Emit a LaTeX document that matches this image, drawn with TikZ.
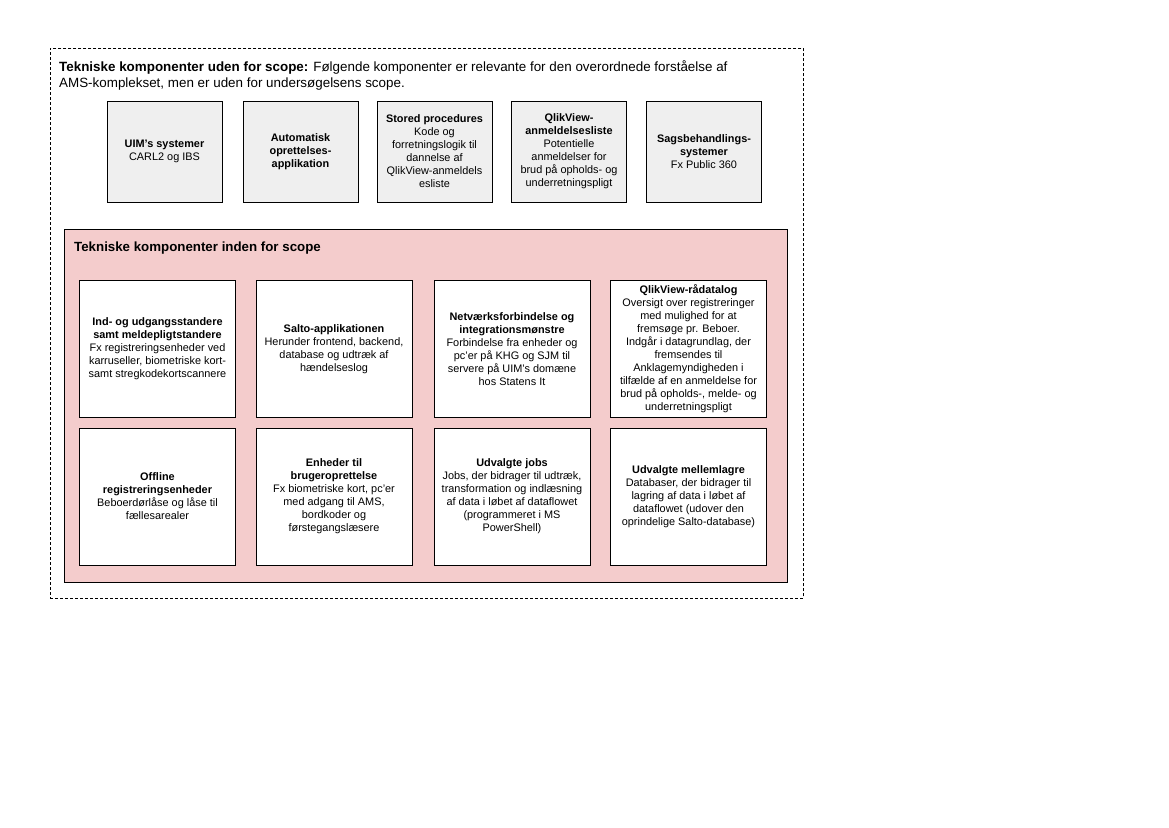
\documentclass[tikz,border=0pt]{standalone}
\usepackage{fontspec}
\setmainfont{Liberation Sans}
\definecolor{pinkfill}{HTML}{F4CCCC}
\definecolor{grayfill}{HTML}{EFEFEF}
\begin{document}
\begin{tikzpicture}[x=1pt,y=-1pt,
  comp/.style={draw=black, line width=0.9pt, inner sep=1pt, align=center,
    font=\fontsize{10.9}{13}\selectfont},
  outcomp/.style={comp, fill=grayfill, minimum width=115pt, minimum height=101pt},
  incomp/.style={comp, fill=white, minimum width=156pt, minimum height=137pt},
]
\useasboundingbox (0,0) rectangle (1169,827);
\fill[white] (0,0) rectangle (1169,827);
% outer dashed frame
\node[draw=black, line width=0.8pt, dash pattern=on 3pt off 2pt, minimum width=753pt, minimum height=550pt, inner sep=0pt, anchor=north west] (outer) at (50,48) {};
\node[anchor=base west, align=left, inner sep=0pt, font=\fontsize{13.4}{16}\selectfont] (outertitle) at (59,87)
  {\textbf{Tekniske komponenter uden for scope:} Følgende komponenter er relevante for den overordnede forståelse af\\AMS-komplekset, men er uden for undersøgelsens scope.};
% out-of-scope components
\node[outcomp] (uim) at (164.5,151.5) {\textbf{UIM’s systemer}\\CARL2 og IBS};
\node[outcomp] (auto) at (300.5,151.5) {\textbf{Automatisk}\\\textbf{oprettelses-}\\\textbf{applikation}};
\node[outcomp] (stored) at (434.5,151.5) {\textbf{Stored procedures}\\Kode og\\forretningslogik til\\dannelse af\\QlikView-anmeldels\\esliste};
\node[outcomp] (qlist) at (569,151.5) {\textbf{QlikView-}\\\textbf{anmeldelsesliste}\\Potentielle\\anmeldelser for\\brud på opholds- og\\underretningspligt};
\node[outcomp] (sags) at (704,151.5) {\textbf{Sagsbehandlings-}\\\textbf{systemer}\\Fx Public 360};
% in-scope frame
\node[draw=black, line width=0.9pt, fill=pinkfill, minimum width=723pt, minimum height=353pt, inner sep=0pt, anchor=north west] (inner) at (64,229) {};
\node[anchor=base west, inner sep=0pt, font=\fontsize{13.3}{16}\selectfont\bfseries] (innertitle) at (74,251) {Tekniske komponenter inden for scope};
% in-scope components, row 1
\node[incomp] (ind) at (157.5,349) {\textbf{Ind- og udgangsstandere}\\\textbf{samt meldepligtstandere}\\Fx registreringsenheder ved\\karruseller, biometriske kort-\\samt stregkodekortscannere};
\node[incomp] (salto) at (334,349) {\textbf{Salto-applikationen}\\Herunder frontend, backend,\\database og udtræk af\\hændelseslog};
\node[incomp] (net) at (512,349) {\textbf{Netværksforbindelse og}\\\textbf{integrationsmønstre}\\Forbindelse fra enheder og\\pc’er på KHG og SJM til\\servere på UIM’s domæne\\hos Statens It};
\node[incomp] (raa) at (688.5,349) {\textbf{QlikView-rådatalog}\\Oversigt over registreringer\\med mulighed for at\\fremsøge pr. Beboer.\\Indgår i datagrundlag, der\\fremsendes til\\Anklagemyndigheden i\\tilfælde af en anmeldelse for\\brud på opholds-, melde- og\\underretningspligt};
% row 2
\node[incomp] (off) at (157.5,496.5) {\textbf{Offline}\\\textbf{registreringsenheder}\\Beboerdørlåse og låse til\\fællesarealer};
\node[incomp] (enh) at (334,496.5) {\textbf{Enheder til}\\\textbf{brugeroprettelse}\\Fx biometriske kort, pc’er\\med adgang til AMS,\\bordkoder og\\førstegangslæsere};
\node[incomp] (jobs) at (512,496.5) {\textbf{Udvalgte jobs}\\Jobs, der bidrager til udtræk,\\transformation og indlæsning\\af data i løbet af dataflowet\\(programmeret i MS\\PowerShell)};
\node[incomp] (mell) at (688.5,496.5) {\textbf{Udvalgte mellemlagre}\\Databaser, der bidrager til\\lagring af data i løbet af\\dataflowet (udover den\\oprindelige Salto-database)};
\end{tikzpicture}
\end{document}
